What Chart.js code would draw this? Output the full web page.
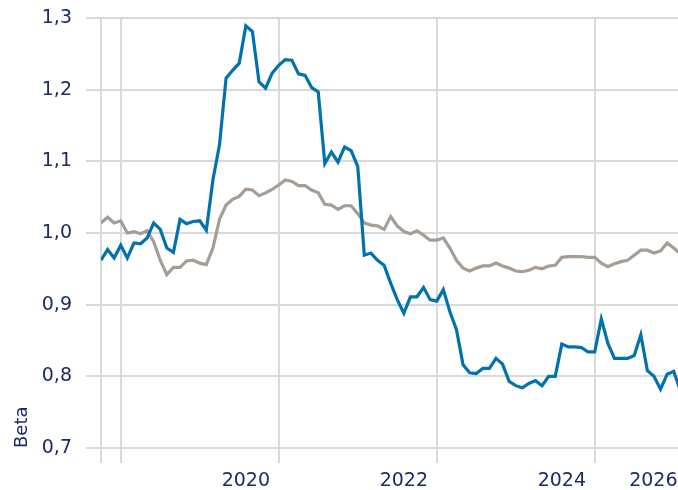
<!DOCTYPE html>
<html>
<head>
<meta charset="utf-8">
<script src="https://cdn.jsdelivr.net/npm/chart.js@4"></script>
<style>
  html, body { margin: 0; padding: 0; background: #fff; }
  #wrap { width: 678px; height: 490px; }
</style>
</head>
<body>
<div id="wrap"><canvas id="chart"></canvas></div>
<script>
// monthly beta (index = month from start)
const blueBeta = [
  0.962, 0.977, 0.965, 0.983, 0.965, 0.986, 0.985, 0.993, 1.014, 1.005,
  0.979, 0.973, 1.019, 1.013, 1.016, 1.017, 1.004, 1.074, 1.123, 1.216,
  1.227, 1.237, 1.289, 1.281, 1.211, 1.202, 1.223, 1.234, 1.242, 1.241,
  1.222, 1.220, 1.203, 1.197, 1.097, 1.113, 1.099, 1.120, 1.115, 1.093,
  0.969, 0.972, 0.962, 0.955, 0.930, 0.907, 0.888, 0.911, 0.911, 0.924,
  0.907, 0.905, 0.921, 0.890, 0.865, 0.816, 0.805, 0.804, 0.811, 0.811,
  0.825, 0.817, 0.793, 0.787, 0.784, 0.790, 0.794, 0.787, 0.800, 0.800,
  0.845, 0.841, 0.841, 0.840, 0.834, 0.834, 0.880, 0.846, 0.825, 0.825,
  0.825, 0.829, 0.858, 0.808, 0.800, 0.782, 0.803, 0.807, 0.780
];
const greyBeta = [
  1.014, 1.022, 1.014, 1.017, 1.000, 1.002, 0.999, 1.003, 0.988, 0.962,
  0.942, 0.952, 0.952, 0.961, 0.962, 0.958, 0.956, 0.979, 1.019, 1.039,
  1.047, 1.051, 1.061, 1.060, 1.052, 1.056, 1.061, 1.067, 1.074, 1.072,
  1.066, 1.066, 1.060, 1.056, 1.040, 1.039, 1.033, 1.038, 1.038, 1.027,
  1.014, 1.011, 1.010, 1.005, 1.023, 1.010, 1.002, 0.999, 1.003, 0.997,
  0.990, 0.990, 0.993, 0.979, 0.962, 0.951, 0.947, 0.951, 0.954, 0.954,
  0.958, 0.954, 0.951, 0.947, 0.946, 0.948, 0.952, 0.950, 0.954, 0.955,
  0.966, 0.967, 0.967, 0.967, 0.966, 0.966, 0.958, 0.953, 0.957, 0.960,
  0.962, 0.969, 0.976, 0.976, 0.972, 0.975, 0.986, 0.979, 0.971
];
const yearLabels = ['2020', '2022', '2024', '2026'];
const yearLabelAt = [22, 46, 70, 94];   // month index where the label sits
const gridAt = [0, 3, 27, 51, 75];      // month index of the vertical grid lines
const X_MAX = 87.65;

const TEXT = '#1c2b68', GRID = '#d9d9d9';
Chart.defaults.font.family = "'DejaVu Sans', Verdana, sans-serif";
Chart.defaults.color = TEXT;

const toPts = arr => arr.map((v, i) => ({ x: i, y: v }));

new Chart(document.getElementById('chart'), {
  type: 'line',
  data: {
    datasets: [
      { label: 'Beta A', data: toPts(blueBeta), borderColor: '#0072ad', borderWidth: 3.2, pointRadius: 0, tension: 0 },
      { label: 'Beta B', data: toPts(greyBeta), borderColor: '#a59d96', borderWidth: 3.2, pointRadius: 0, tension: 0 }
    ]
  },
  options: {
    responsive: true, maintainAspectRatio: false, animation: false,
    layout: { padding: { top: 18, right: 0, left: 0, bottom: 0 } },
    plugins: { legend: { display: false }, tooltip: { enabled: false } },
    scales: {
      x: {
        type: 'linear', min: 0, max: X_MAX,
        border: { display: false },
        grid: {
          color: c => (c.tick && c.tick.name) ? 'rgba(0,0,0,0)' : GRID,
          lineWidth: 2, tickLength: 15
        },
        ticks: { autoSkip: false, maxRotation: 0, padding: 7, font: { size: 19 } },
        afterBuildTicks: s => {
          const t = gridAt.map(v => ({ value: v }));
          yearLabels.forEach((name, i) => t.push({ value: Math.min(yearLabelAt[i], X_MAX - 3.75), name }));
          s.ticks = t.sort((a, b) => a.value - b.value);
        },
        afterTickToLabelConversion: s => { s.ticks.forEach(t => { t.label = t.name || ''; }); },
        afterFit: s => { s.height = 42; s.paddingLeft = 0; s.paddingRight = 0; }
      },
      y: {
        min: 0.7, max: 1.3,
        border: { display: false },
        grid: { color: GRID, lineWidth: 2, tickLength: 15 },
        ticks: { stepSize: 0.1, padding: 14, font: { size: 19 }, callback: v => v.toFixed(1).replace('.', ',') },
        title: { display: true, text: 'Beta', align: 'start', font: { size: 18 }, padding: { top: 12, bottom: 0 } },
        afterFit: s => { s.width = 101; s.paddingTop = 0; s.paddingBottom = 0; }
      }
    }
  }
});
</script>
</body>
</html>
